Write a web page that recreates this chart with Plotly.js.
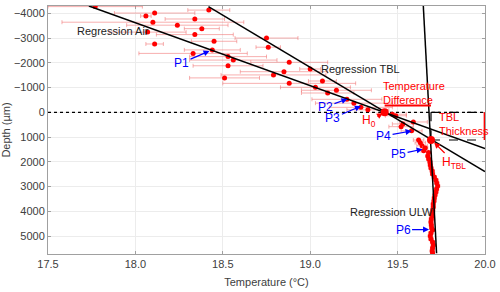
<!DOCTYPE html>
<html><head><meta charset="utf-8">
<script src="https://cdn.plot.ly/plotly-3.0.1.min.js"></script>
<style>html,body{margin:0;padding:0;background:#fff}#chart{width:500px;height:292px}</style>
</head><body><div id="chart"></div>
<script>
// Measured points (temperature °C, depth µm, temperature error)
const upperT = [17.77,18.42,18.11,18.06,18.34,18.10,18.24,18.38,18.07,18.34,18.75,18.45,18.11,18.76,18.44,18.33,18.53,18.56,18.88,18.53,19.00,18.85,18.79,18.51,19.07,18.88,19.03,19.15,19.10,19.21,19.25,19.29,19.33,19.47,19.49,19.59,19.52,19.53,19.58,19.62,19.63,19.64];
const upperD = [-4270,-4130,-4010,-3890,-3770,-3640,-3520,-3380,-3240,-3140,-3000,-2870,-2760,-2630,-2520,-2380,-2250,-2110,-2020,-1880,-1750,-1640,-1510,-1390,-1265,-1170,-1010,-890,-780,-525,-370,-200,-100,80,140,390,580,470,750,1120,1230,1350];
const upperErr = [0.27,0.12,0.23,0.03,0.17,0.52,0.29,0.10,0.22,0.22,0.18,0.13,0.05,0.07,0.16,0.31,0.22,0.25,0.22,0.20,0.06,0.25,0.30,0.20,0.08,0.38,0.20,0.20,0.15,0.20,0.22,0.18,0.12,0.08,0.06,0.08,0.07,0.06,0.06,0.03,0.03,0.03];
const ulwT = [19.649,19.658,19.677,19.673,19.678,19.685,19.687,19.691,19.698,19.700,19.710,19.719,19.724,19.729,19.723,19.719,19.714,19.710,19.708,19.704,19.704,19.701,19.698,19.697,19.693,19.691,19.693,19.695,19.700,19.691,19.687,19.691,19.700,19.704,19.700,19.698,19.700];
const ulwD = [1550,1440,1620,1765,1885,2010,2130,2250,2370,2490,2615,2735,2855,2977,3100,3220,3340,3460,3585,3705,3825,3947,4070,4190,4310,4430,4550,4675,4755,4875,4995,5120,5240,5360,5480,5600,5680];
const ulwErr = [0.015,0.015,0.012,0.012,0.012,0.012,0.012,0.012,0.012,0.012,0.012,0.012,0.012,0.012,0.012,0.012,0.012,0.012,0.012,0.012,0.012,0.012,0.012,0.012,0.012,0.012,0.012,0.012,0.012,0.012,0.012,0.012,0.012,0.012,0.012,0.012,0.012];
// Key points
const h0 = {T: 19.426, D: 0};
const hTBL = {T: 19.691, D: 1120};
// Regression lines (endpoints)
const airT = [17.734, 20.0], airD = [-4295, 1467];
const tblT = [18.418, 20.0], tblD = [-4267, 2392];
const ulwLineT = [19.647, 19.723], ulwLineD = [-4295, 5697];
// Reference lines
const zeroT = [17.5, 20.0], zeroD = [0, 0];
const diffT = [h0.T, hTBL.T], diffD = [-270, -270];
const thickT = [19.998, 19.998], thickD = [0, hTBL.D];
// Axis ticks
const xTicks = [17.5, 18.0, 18.5, 19.0, 19.5, 20.0];
const yTicks = [-4000,-3000,-2000,-1000,0,1000,2000,3000,4000,5000];

const errStyle = {type:'data', color:'rgba(240,110,110,0.55)', thickness:1, width:2};
const black = {color:'#000', width:1.5};
const traces = [
  {x: zeroT, y: zeroD, mode:'lines', line:{color:'#000', width:1.2, dash:'dot'}},
  {x: [hTBL.T, 20.0], y: [0, 0], mode:'lines', line:{color:'#000', width:1.2, dash:'dash'}},
  {x: [hTBL.T, 20.0], y: [hTBL.D, hTBL.D], mode:'lines', line:{color:'#000', width:1.2, dash:'dash'}},
  {x: [hTBL.T, hTBL.T], y: [0, hTBL.D], mode:'lines', line:{color:'#000', width:1.2, dash:'dash'}},
  {x: upperT, y: upperD, mode:'markers', marker:{color:'#ff0000', size:5}, error_x: Object.assign({array: upperErr}, errStyle)},
  {x: ulwT, y: ulwD, mode:'markers', marker:{color:'#ff0000', size:5}, error_x: Object.assign({array: ulwErr}, errStyle)},
  {x: airT, y: airD, mode:'lines', line:black},
  {x: tblT, y: tblD, mode:'lines', line:black},
  {x: ulwLineT, y: ulwLineD, mode:'lines', line:black},
  {x: [h0.T, hTBL.T], y: [h0.D, hTBL.D], mode:'markers', marker:{color:'#ff0000', size:8}},
  {x: diffT, y: diffD, mode:'lines', line:{color:'#ff0000', width:2}},
  {x: thickT, y: thickD, mode:'lines', line:{color:'#ff0000', width:2}}
];

const font = {family:'Liberation Sans, Arial, sans-serif', size:11, color:'#222'};
function pl(text, x, y, ax, ay) {
  return {text:text, x:x, y:y, ax:ax, ay:ay, showarrow:true, arrowhead:2, arrowsize:1, arrowwidth:1.2,
          arrowcolor:'#0000ff', font:{family:font.family, size:12, color:'#0000ff'}};
}
const annotations = [
  {text:'Regression Air', x:17.873, y:-3285, showarrow:false, font:font},
  {text:'Regression TBL', x:19.29, y:-1737, showarrow:false, font:font},
  {text:'Regression ULW', x:19.464, y:4016, showarrow:false, font:font},
  {text:'Temperature<br>Difference', x:19.405, y:-800, xanchor:'left', align:'left', showarrow:false, font:{family:font.family, size:11, color:'#ff0000'}},
  {text:'TBL<br>Thickness', x:19.725, y:485, xanchor:'left', align:'left', showarrow:false, font:{family:font.family, size:11, color:'#ff0000'}},
  pl('P1', 18.424, -2477, -28, 12),
  pl('P2', 19.213, -540, -22, 8),
  pl('P3', 19.29, -250, -28, 12),
  pl('P4', 19.58, 755, -28, 5),
  pl('P5', 19.643, 1490, -24, 5),
  pl('P6', 19.68, 4740, -26, 0),
  {text:'H<sub>0</sub>', x:h0.T-0.01, y:h0.D+40, ax:-14, ay:8, showarrow:true, arrowhead:2, arrowsize:1, arrowwidth:1.2, arrowcolor:'#ff0000', font:{family:font.family, size:12, color:'#ff0000'}},
  {text:'H<sub>TBL</sub>', x:hTBL.T+0.018, y:hTBL.D+100, ax:20, ay:20, showarrow:true, arrowhead:2, arrowsize:1, arrowwidth:1.2, arrowcolor:'#ff0000', font:{family:font.family, size:12, color:'#ff0000'}}
];

const axisCommon = {showline:true, linecolor:'#a0a0a0', linewidth:1, mirror:'ticks', ticks:'inside', ticklen:3,
  tickcolor:'#a0a0a0', gridcolor:'#ececec', zeroline:false, tickfont:{family:font.family, size:11, color:'#404040'}, layer:'below traces'};
const layout = {
  width:500, height:292, margin:{l:48, r:15, t:6, b:38},
  paper_bgcolor:'#fff', plot_bgcolor:'#fff', showlegend:false,
  xaxis: Object.assign({}, axisCommon, {range:[17.5, 20.0], tickvals:xTicks, ticktext:xTicks.map(v=>v.toFixed(1)),
    title:{text:'Temperature (°C)', font:{family:font.family, size:11, color:'#404040'}, standoff:9}}),
  yaxis: Object.assign({}, axisCommon, {range:[5725, -4295], tickvals:yTicks,
    title:{text:'Depth (µm)', font:{family:font.family, size:11, color:'#404040'}, standoff:5}}),
  annotations: annotations
};
Plotly.newPlot('chart', traces, layout, {staticPlot:true, displayModeBar:false});
</script></body></html>
